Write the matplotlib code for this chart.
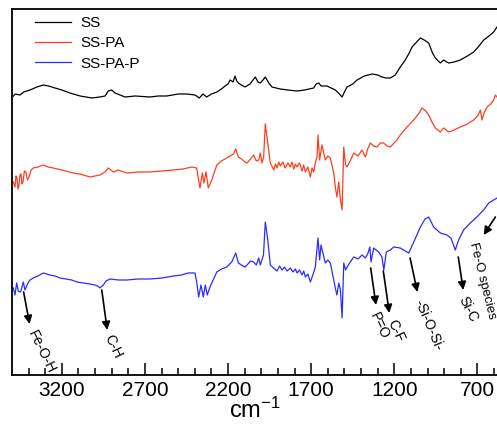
import matplotlib
matplotlib.use("Agg")
import matplotlib.pyplot as plt

plt.rcParams['font.family'] = ['Liberation Sans', 'DejaVu Sans']
plt.rcParams['mathtext.fontset'] = 'custom'
plt.rcParams['mathtext.rm'] = 'Liberation Sans'
plt.rcParams['mathtext.it'] = 'Liberation Sans'

# ---- data (wavenumber in cm-1, offset intensity in arbitrary units) ----
ss_wn = [3498, 3480, 3452, 3430, 3392, 3350, 3312, 3280, 3241, 3200, 3151, 3090, 3020, 2971, 2940,
         2921, 2900, 2880, 2820, 2760, 2670, 2620, 2569, 2500, 2449, 2399, 2373, 2351, 2329, 2300,
         2268, 2240, 2218, 2200, 2188, 2170, 2158, 2148, 2138, 2120, 2098, 2068, 2050, 2036, 2020,
         2006, 1990, 1976, 1955, 1936, 1886, 1840, 1785, 1740, 1685, 1670, 1655, 1640, 1605, 1580,
         1555, 1530, 1514, 1500, 1484, 1450, 1424, 1380, 1334, 1300, 1274, 1250, 1224, 1194, 1164,
         1134, 1110, 1093, 1060, 1043, 1020, 993, 970, 953, 923, 903, 885, 872, 840, 803, 760,
         722, 690, 662, 630, 602, 582]
ss_int = [278, 281, 280, 283, 285, 288, 290, 289, 287, 285, 282, 279, 277, 278, 279,
          284, 285, 282, 278, 279, 278, 279, 279, 281, 281, 280, 277, 281, 278, 281,
          283, 286, 289, 291, 295, 293, 299, 294, 292, 290, 288, 291, 295, 298, 293,
          292, 295, 298, 292, 288, 286, 285, 284, 285, 287, 291, 292, 289, 289, 287,
          285, 281, 278, 283, 288, 291, 295, 299, 301, 300, 298, 297, 297, 300, 308,
          315, 322, 328, 334, 337, 335, 332, 322, 317, 312, 315, 313, 312, 313, 315, 319,
          323, 329, 335, 339, 343, 348]

sspa_wn = [3492, 3482, 3476, 3470, 3464, 3458, 3452, 3446, 3440, 3434, 3425, 3416, 3407, 3398,
           3385, 3372, 3344, 3312, 3283, 3252, 3201, 3131, 3091, 3031, 3001, 2971, 2940, 2921,
           2890, 2860, 2810, 2740, 2670, 2600, 2530, 2470, 2419, 2389, 2369, 2355, 2345, 2333,
           2319, 2298, 2268, 2240, 2208, 2168, 2154, 2138, 2120, 2098, 2086, 2065, 2046, 2030,
           2016, 2006, 1996, 1986, 1976, 1961, 1946, 1925, 1915, 1905, 1895, 1886, 1870, 1857,
           1840, 1826, 1815, 1805, 1795, 1785, 1770, 1755, 1745, 1735, 1720, 1705, 1695, 1685,
           1675, 1665, 1659, 1649, 1635, 1615, 1600, 1585, 1564, 1555,
           1545, 1534, 1524, 1514, 1504, 1493, 1484, 1465, 1444, 1418, 1394, 1374, 1360, 1344,
           1324, 1304, 1284, 1264, 1244, 1224, 1184, 1164, 1123, 1083, 1050, 1033, 1010, 993,
           970, 953, 923, 903, 872, 840, 803, 760, 722, 695, 682, 672, 660, 642, 620, 602, 592, 582]
sspa_int = [193, 188, 199, 197, 186, 190, 200, 201, 191, 193, 204, 203, 195, 198,
            205, 207, 208, 210, 208, 207, 205, 202, 201, 198, 199, 200, 203, 207,
            203, 205, 202, 203, 203, 204, 205, 206, 208, 207, 187, 202, 192, 203,
            187, 195, 210, 214, 217, 221, 226, 218, 216, 213, 212, 216, 220, 214,
            215, 222, 212, 218, 251, 232, 212, 205, 211, 207, 213, 209, 213, 207,
            212, 208, 213, 206, 211, 208, 212, 204, 210, 203, 208, 198, 207, 203,
            212, 218, 240, 215, 230, 215, 219, 217, 202, 188,
            178, 193, 175, 165, 228, 210, 208, 214, 222, 219, 225, 218, 226, 232,
            229, 228, 232, 232, 229, 228, 235, 240, 248, 255, 262, 267, 264, 260,
            252, 247, 243, 247, 243, 245, 248, 251, 255, 260, 265, 255, 262, 268, 271, 275, 280, 278]

ssp_wn = [3492, 3482, 3472, 3462, 3448, 3432, 3422, 3404, 3392, 3372, 3344, 3312, 3271, 3241,
          3211, 3175, 3141, 3109, 3071, 3031, 3001, 2985, 2971, 2951, 2934, 2910, 2860, 2810,
          2740, 2670, 2597, 2529, 2480, 2439, 2399, 2389, 2377, 2363, 2349, 2337, 2325, 2309,
          2268, 2240, 2208, 2178, 2154, 2138, 2120, 2098, 2086, 2065, 2046, 2030, 2016, 2006,
          1987, 1976, 1961, 1946, 1926, 1906, 1890, 1875, 1860, 1845, 1825, 1810, 1795, 1785,
          1770, 1755, 1745, 1735, 1720, 1705, 1690, 1675,
          1659, 1649, 1641, 1615, 1600, 1585, 1564, 1555, 1545, 1534, 1524, 1514, 1504, 1493,
          1484, 1465, 1444, 1418, 1394, 1374, 1360, 1347, 1340, 1324, 1294, 1274, 1263, 1248,
          1224, 1203, 1164, 1113, 1083, 1043, 1015, 993, 963, 923, 883, 859, 833, 813, 783,
          743, 703, 662, 632, 602, 582]
ssp_int = [87, 80, 92, 84, 83, 93, 85, 92, 95, 97, 99, 102, 100, 99,
           97, 96, 95, 93, 92, 91, 90, 89, 87, 90, 94, 96, 95, 95,
           96, 96, 97, 99, 100, 102, 102, 93, 78, 90, 78, 90, 80, 88,
           103, 106, 108, 113, 122, 112, 110, 108, 110, 114, 113, 110, 117, 110,
           120, 153, 135, 110, 107, 104, 109, 105, 108, 104, 107, 103, 106, 102,
           105, 100, 104, 98, 101, 93, 100, 108,
           137, 115, 130, 112, 115, 112, 95, 87, 80, 92, 85, 57, 112, 105,
           108, 113, 118, 116, 120, 117, 121, 128, 113, 127, 123, 118, 105, 123,
           125, 128, 127, 122, 133, 148, 156, 158, 148, 142, 140, 137, 125, 135, 145,
           152, 158, 165, 172, 175, 177]

labels = ['SS', 'SS-PA', 'SS-PA-P']
colors = ['#000000', '#ff3d1f', '#2b2bff']

xticks = [3200, 2700, 2200, 1700, 1200, 700]

# annotations: label, tail (wn, int), head (wn, int), text start (wn, int), rotation
ann_labels = ['Fe-O-H', 'C-H', 'P=O', 'C-F', '-Si-O-Si-', 'Si-C', 'Fe-O species']
ann_tail = [(3430, 83), (2960, 85), (1342, 107), (1266, 104), (1105, 117), (815, 118), (592, 158)]
ann_head = [(3394, 51), (2927, 45), (1310, 70), (1230, 62), (1061, 83), (785, 85), (662, 140)]
ann_text = [(3384, 44), (2925, 40), (1324, 62), (1218, 55), (1054, 75), (792, 78), (730, 132)]
ann_rot = [-64, -65, -65, -65, -67, -63, -76]

# ---- figure ----
W, H = 497, 429
fig = plt.figure(figsize=(W / 100, H / 100), dpi=100)
ax = fig.add_axes([12 / W, (H - 375) / H, 1 - 12 / W, (375 - 9) / H])

for wn, yv, lab, c in zip([ss_wn, sspa_wn, ssp_wn], [ss_int, sspa_int, ssp_int], labels, colors):
    ax.plot(wn, yv, color=c, lw=0.9, label=lab)

ax.set_xlim(3500, 582)
ax.set_ylim(0, 366)
ax.set_yticks([])
ax.set_xticks(xticks)
ax.set_xticks(list(range(3400, 582, -100)), minor=True)
ax.tick_params(axis='x', which='major', direction='in', length=9, width=1.1, labelsize=15, pad=4)
ax.tick_params(axis='x', which='minor', direction='in', length=5, width=1.1)
for s in ['left', 'bottom', 'top']:
    ax.spines[s].set_linewidth(1.3)
ax.spines['right'].set_visible(False)

ax.set_xlabel(r'cm$^{\mathrm{-1}}$', fontsize=17, labelpad=-1)

for lab, t, h, tp, r in zip(ann_labels, ann_tail, ann_head, ann_text, ann_rot):
    ax.annotate('', xy=h, xytext=t,
                arrowprops=dict(arrowstyle='-|>', color='black', lw=1.2, mutation_scale=12,
                                shrinkA=0, shrinkB=0))
    fs = 9.5 if lab == 'Fe-O species' else 10
    ax.text(tp[0], tp[1], lab, rotation=r, rotation_mode='anchor', ha='left', va='center',
            fontsize=fs)

leg = ax.legend(loc='upper left', bbox_to_anchor=(35 / W, (H - 16) / H),
                bbox_transform=fig.transFigure, frameon=False, fontsize=11,
                handlelength=2.35, handletextpad=0.6, labelspacing=0.42,
                borderpad=0, borderaxespad=0)

fig.savefig('out.png', dpi=100)
